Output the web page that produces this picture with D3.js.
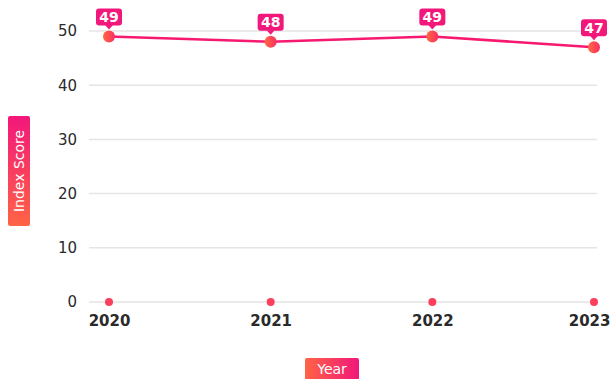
<!DOCTYPE html>
<html>
<head>
<meta charset="utf-8">
<script src="https://cdn.jsdelivr.net/npm/d3@7"></script>
<style>
  html, body { margin: 0; padding: 0; background: #fff; }
  svg { display: block; font-family: "DejaVu Sans", sans-serif; }
</style>
</head>
<body>
<svg id="chart" width="612" height="379"></svg>
<script>
// Yearly index scores
const years = ["2020", "2021", "2022", "2023"];
const scores = [49, 48, 49, 47];
const baseline = [0, 0, 0, 0];
const yTicks = [0, 10, 20, 30, 40, 50];

const W = 612;
const svg = d3.select("#chart");

const x = d3.scalePoint().domain(years).range([109, 594]);
const y = d3.scaleLinear().domain([0, 50]).range([302, 31]);

const defs = svg.append("defs");
const gH = defs.append("linearGradient").attr("id", "gradH")
  .attr("x1", 0).attr("y1", 0).attr("x2", 1).attr("y2", 0);
gH.append("stop").attr("offset", "0%").attr("stop-color", "#ff6445");
gH.append("stop").attr("offset", "100%").attr("stop-color", "#f2177a");
const gDot = defs.append("linearGradient").attr("id", "gradDot")
  .attr("x1", 0).attr("y1", 0).attr("x2", 1).attr("y2", 0);
gDot.append("stop").attr("offset", "0%").attr("stop-color", "#ff6a40");
gDot.append("stop").attr("offset", "100%").attr("stop-color", "#fb2f62");

// Gridlines
svg.append("g").selectAll("line").data(yTicks).join("line")
  .attr("x1", 89).attr("x2", 597)
  .attr("y1", d => y(d)).attr("y2", d => y(d))
  .attr("stroke", "#e5e5e5").attr("stroke-width", 1.5);

// Y axis labels
const yAxis = svg.append("g").attr("transform", "translate(77,0)")
  .call(d3.axisLeft(y).tickValues(yTicks).tickSize(0).tickPadding(0));
yAxis.select(".domain").remove();
yAxis.selectAll("text").attr("font-size", 15).attr("fill", "#2a2a2a")
  .attr("font-family", "'DejaVu Sans', sans-serif");

// X axis labels; the last one is kept inside the right edge
const xAxis = svg.append("g").attr("transform", "translate(0,315)")
  .call(d3.axisBottom(x).tickSize(0).tickPadding(0));
xAxis.select(".domain").remove();
xAxis.selectAll("text").attr("font-size", 15).attr("font-weight", "bold")
  .attr("fill", "#2a2a2a").attr("font-family", "'DejaVu Sans', sans-serif");
xAxis.selectAll(".tick").filter(d => d === years[years.length - 1]).select("text")
  .attr("text-anchor", "end").attr("x", W - 2 - x(years[years.length - 1]));

// Axis titles (the rotated box gets pink at the top, orange at the bottom)
const yt = svg.append("g").attr("transform", "translate(19,171) rotate(-90)");
yt.append("rect").attr("x", -55).attr("y", -11).attr("width", 110).attr("height", 22)
  .attr("rx", 2).attr("fill", "url(#gradH)");
yt.append("text").text("Index Score").attr("text-anchor", "middle").attr("dy", "0.35em")
  .attr("fill", "#fff").attr("font-size", 14);

const xt = svg.append("g").attr("transform", "translate(332,369)");
xt.append("rect").attr("x", -27).attr("y", -11).attr("width", 54).attr("height", 22)
  .attr("rx", 2).attr("fill", "url(#gradH)");
xt.append("text").text("Year").attr("text-anchor", "middle").attr("dy", "0.35em")
  .attr("fill", "#fff").attr("font-size", 14);

// Baseline dots
svg.append("g").selectAll("circle").data(baseline).join("circle")
  .attr("cx", (d, i) => x(years[i])).attr("cy", d => y(d)).attr("r", 4)
  .attr("fill", "#fb3f5c");

// Score line
const line = d3.line().x((d, i) => x(years[i])).y(d => y(d));
svg.append("path").datum(scores).attr("d", line)
  .attr("fill", "none").attr("stroke", "#f7186f").attr("stroke-width", 2.5);

svg.append("g").selectAll("circle").data(scores).join("circle")
  .attr("cx", (d, i) => x(years[i])).attr("cy", d => y(d)).attr("r", 6)
  .attr("fill", "url(#gradDot)");

// Value callouts
const lab = svg.append("g").selectAll("g").data(scores).join("g")
  .attr("transform", (d, i) => `translate(${x(years[i])},${y(d) - 10})`);
lab.append("rect").attr("x", -13).attr("y", -18).attr("width", 26).attr("height", 17)
  .attr("rx", 3).attr("fill", "#f2177a");
lab.append("path").attr("d", "M-4,-1.5 L4,-1.5 L0,3 Z").attr("fill", "#f2177a");
lab.append("text").text(d => d).attr("text-anchor", "middle").attr("y", -4.5)
  .attr("fill", "#fff").attr("font-size", 14).attr("font-weight", "bold");
</script>
</body>
</html>
